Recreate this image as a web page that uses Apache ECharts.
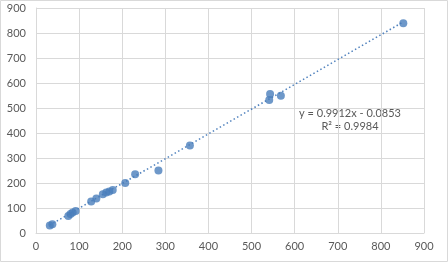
<!DOCTYPE html>
<html><head><meta charset="utf-8">
<script src="https://cdn.jsdelivr.net/npm/echarts@6/dist/echarts.min.js"></script>
<style>html,body{margin:0;padding:0;background:#fff}#c{width:448px;height:262px}</style>
</head><body><div id="c"></div>
<script>
const xValues = [32, 38, 75, 80, 85, 92, 128, 140, 155, 163, 170, 178, 207, 230, 284, 357, 541, 543, 568, 852];
const yValues = [30, 35, 68, 76, 82, 88, 126, 138, 155, 162, 166, 172, 200, 235, 250, 350, 532, 556, 549, 839];
const trendSlope = 0.9912;
const trendIntercept = -0.0853;
const trendText = ['y = 0.9912x - 0.0853', 'R² = 0.9984'];
const xTicks = [0, 100, 200, 300, 400, 500, 600, 700, 800, 900];
const yTicks = [0, 100, 200, 300, 400, 500, 600, 700, 800, 900];

const pts = xValues.map((x, i) => [x, yValues[i]]);
const xmin = Math.min(...xValues), xmax = Math.max(...xValues);
const trend = [[xmin, trendSlope * xmin + trendIntercept], [xmax, trendSlope * xmax + trendIntercept]];

const chart = echarts.init(document.getElementById('c'), null, {renderer: 'canvas'});
const grey = '#595959';
const font = 'Lato';
chart.setOption({
  animation: false,
  grid: {left: 36, right: 24, top: 8, bottom: 29},
  xAxis: {
    type: 'value', min: xTicks[0], max: xTicks[xTicks.length - 1], interval: 100,
    axisLine: {show: true, lineStyle: {color: '#d9d9d9'}},
    axisTick: {show: false},
    splitLine: {show: true, lineStyle: {color: '#d9d9d9'}},
    axisLabel: {color: grey, fontSize: 11, fontFamily: font, margin: 8}
  },
  yAxis: {
    type: 'value', min: yTicks[0], max: yTicks[yTicks.length - 1], interval: 100,
    axisLine: {show: true, lineStyle: {color: '#d9d9d9'}},
    axisTick: {show: false},
    splitLine: {show: true, lineStyle: {color: '#d9d9d9'}},
    axisLabel: {color: grey, fontSize: 11, fontFamily: font, margin: 10}
  },
  series: [
    {type: 'line', data: trend, symbol: 'none', silent: true,
     lineStyle: {color: '#4f81bd', width: 1.5, type: [1.5, 2.5]}, z: 1},
    {type: 'scatter', data: pts, symbolSize: 8,
     itemStyle: {color: '#4a7ebb'}, z: 2}
  ],
  graphic: [
    {type: 'rect', shape: {x: 0.5, y: 0.5, width: 447, height: 261},
     style: {fill: 'none', stroke: '#d9d9d9', lineWidth: 1}},
    {type: 'text', x: 350, y: 113, style: {text: trendText[0], fill: grey, fontSize: 11, fontFamily: font, align: 'center', verticalAlign: 'middle'}},
    {type: 'text', x: 350, y: 126, style: {text: trendText[1], fill: grey, fontSize: 11, fontFamily: font, align: 'center', verticalAlign: 'middle'}}
  ]
});
</script></body></html>
